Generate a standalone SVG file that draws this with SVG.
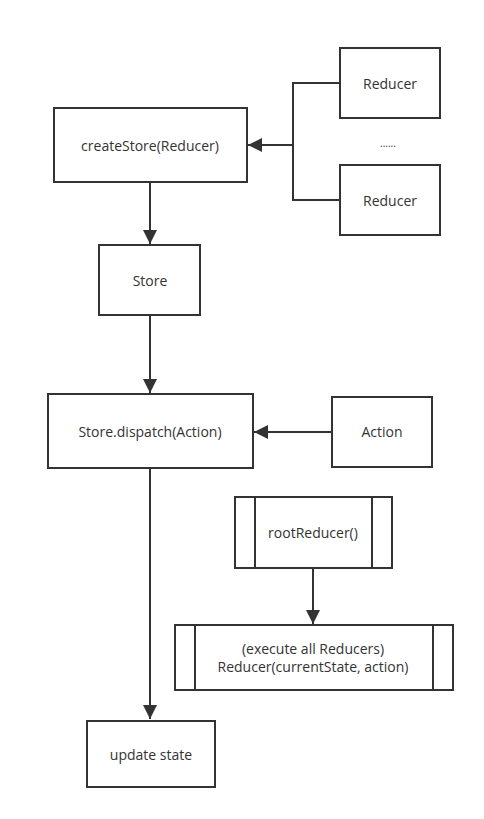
<svg xmlns="http://www.w3.org/2000/svg" width="484" height="819" viewBox="0 0 484 819">
<style>
.box{fill:#fff;stroke:#333;stroke-width:2}
.ln{fill:none;stroke:#333;stroke-width:2}
text{font-family:"Open Sans","Noto Sans","Liberation Sans",sans-serif;font-size:14px;fill:#333;text-anchor:middle;dominant-baseline:central}
</style>
<defs>
<marker id="ah" viewBox="0 0 10 10" refX="10" refY="5" markerWidth="14" markerHeight="14" markerUnits="userSpaceOnUse" orient="auto">
<path d="M0,0 L10,5 L0,10 Z" fill="#333"/>
</marker>
</defs>
<rect width="484" height="819" fill="#fff"/>
<g id="connectors">
<path class="ln" d="M340,83 H293 V200 H340"/>
<path class="ln" d="M293,145 H248" marker-end="url(#ah)"/>
<path class="ln" d="M150,182 V244" marker-end="url(#ah)"/>
<path class="ln" d="M150,315 V393" marker-end="url(#ah)"/>
<path class="ln" d="M332,432 H254" marker-end="url(#ah)"/>
<path class="ln" d="M313,568 V624" marker-end="url(#ah)"/>
<path class="ln" d="M150,468 V719" marker-end="url(#ah)"/>
</g>
<g id="createStore">
<rect class="box" x="54" y="108" width="193" height="74"/>
<text x="150" y="145">createStore(Reducer)</text>
</g>
<g id="reducer1">
<rect class="box" x="340" y="48" width="100" height="70"/>
<text x="390" y="83">Reducer</text>
</g>
<g id="ellipsis">
<text x="388" y="143" style="font-size:10px">......</text>
</g>
<g id="reducer2">
<rect class="box" x="340" y="165" width="100" height="70"/>
<text x="390" y="200">Reducer</text>
</g>
<g id="store">
<rect class="box" x="99" y="245" width="101" height="70"/>
<text x="150" y="280">Store</text>
</g>
<g id="dispatch">
<rect class="box" x="48" y="394" width="205" height="74"/>
<text x="150" y="431">Store.dispatch(Action)</text>
</g>
<g id="action">
<rect class="box" x="332" y="397" width="100" height="70"/>
<text x="382" y="431">Action</text>
</g>
<g id="rootReducer">
<rect class="box" x="235" y="497" width="157" height="71"/>
<path class="ln" d="M255,497 V568 M372,497 V568"/>
<text x="313" y="532">rootReducer()</text>
</g>
<g id="executeReducers">
<rect class="box" x="175" y="625" width="278" height="65"/>
<path class="ln" d="M195,625 V690 M433,625 V690"/>
<text x="313" y="648">(execute all Reducers)</text>
<text x="313" y="666">Reducer(currentState, action)</text>
</g>
<g id="updateState">
<rect class="box" x="87" y="721" width="128" height="66"/>
<text x="151" y="754">update state</text>
</g>
</svg>
